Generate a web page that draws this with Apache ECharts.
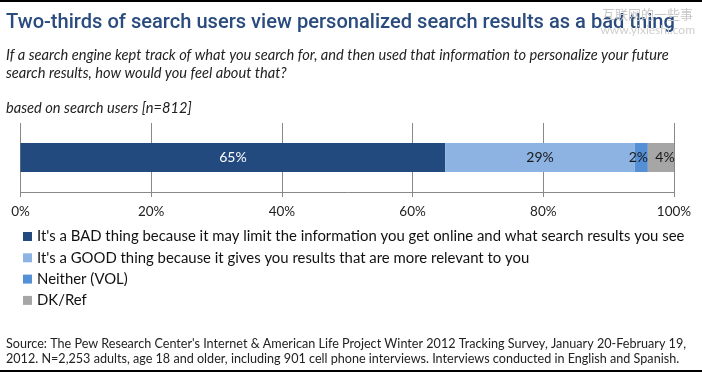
<!DOCTYPE html>
<html><head><meta charset="utf-8">
<script src="https://cdn.jsdelivr.net/npm/echarts@6/dist/echarts.min.js"></script>
<style>html,body{margin:0;padding:0;background:#fff}#c{width:702px;height:373px}</style>
</head><body><div id="c"></div>
<script>
const categories = [''];
const seriesNames = [
  "It's a BAD thing because it may limit the information you get online and what search results you see",
  "It's a GOOD thing because it gives you results that are more relevant to you",
  "Neither (VOL)",
  "DK/Ref"
];
const badValues = [65];
const goodValues = [29];
const neitherValues = [2];
const dkValues = [4];
const xTicks = [0, 20, 40, 60, 80, 100];
const colors = ['#234A7E', '#8DB3E2', '#5590D6', '#A6A6A6'];
const labelColors = ['#ffffff', '#1a1a1a', '#1a1a1a', '#1a1a1a'];

const FONT = 'Lato, "Open Sans", sans-serif';
const chart = echarts.init(document.getElementById('c'), null, {renderer: 'canvas'});
const allValues = [badValues, goodValues, neitherValues, dkValues];
const labelOffsets = [[0, 0], [0, 0], [-3, 0], [4, 0]];
const series = allValues.map((vals, i) => ({
  name: seriesNames[i],
  type: 'bar',
  stack: 'total',
  barWidth: 29,
  data: vals,
  itemStyle: {color: colors[i]},
  label: {
    show: true, position: 'inside', formatter: '{c}%', offset: labelOffsets[i],
    color: labelColors[i], fontFamily: FONT, fontSize: 14
  }
}));

chart.setOption({
  animation: false,
  backgroundColor: '#fff',
  title: [
    {text: 'Two-thirds of search users view personalized search results as a bad thing', left: 1, top: 8,
     textStyle: {fontFamily: 'Roboto, sans-serif', fontSize: 20.1, fontWeight: 500, color: '#2A4B7E'}},
    {text: 'If a search engine kept track of what you search for, and then used that information to personalize your future\nsearch results, how would you feel about that?',
     left: 1, top: 41, textStyle: {fontFamily: FONT, fontStyle: 'italic', fontSize: 14.65, fontWeight: 'normal', color: '#222', lineHeight: 18}},
    {text: 'based on search users [n=812]', left: 1, top: 96,
     textStyle: {fontFamily: FONT, fontStyle: 'italic', fontSize: 14.65, fontWeight: 'normal', color: '#222'}},
    {text: 'Source: The Pew Research Center\'s Internet & American Life Project Winter 2012 Tracking Survey, January 20-February 19,\n2012. N=2,253 adults, age 18 and older, including 901 cell phone interviews. Interviews conducted in English and Spanish.',
     left: 1, top: 331, textStyle: {fontFamily: FONT, fontSize: 12.6, fontWeight: 'normal', color: '#222', lineHeight: 15}},
    {text: '互联网的一些事', right: 4, top: 3, textStyle: {fontFamily: '"Noto Sans CJK SC"', fontSize: 13, fontWeight: 'normal', color: '#c8c8c8'}},
    {text: 'www.yixieshi.com', right: 2, top: 19, textStyle: {fontFamily: FONT, fontSize: 12, fontWeight: 'normal', color: '#cfcfcf'}}
  ],
  graphic: [
    {type: 'rect', shape: {x: 0, y: 0, width: 702, height: 2}, style: {fill: '#000'}},
    {type: 'rect', shape: {x: 0, y: 370, width: 702, height: 2}, style: {fill: '#000'}}
  ],
  legend: {
    orient: 'vertical', left: 23, top: 229, padding: 0,
    icon: 'rect', itemWidth: 9, itemHeight: 9, itemGap: 6.3,
    textStyle: {fontFamily: FONT, fontSize: 14.9, color: '#111', lineHeight: 14},
    data: seriesNames
  },
  grid: {left: 20.5, right: 28, top: 123, height: 69, containLabel: false},
  xAxis: {
    type: 'value', min: 0, max: 100, interval: 20,
    axisLine: {show: true, lineStyle: {color: '#888', width: 1}},
    axisTick: {show: true, length: 5, lineStyle: {color: '#888'}},
    splitLine: {show: true, lineStyle: {color: '#888', width: 1}},
    axisLabel: {formatter: v => xTicks.includes(v) ? v + '%' : '', fontFamily: FONT, fontSize: 13.5, color: '#222', margin: 13}
  },
  yAxis: {
    type: 'category', data: categories,
    axisLine: {show: false}, axisTick: {show: false}, axisLabel: {show: false}
  },
  series: series
});
</script></body></html>
